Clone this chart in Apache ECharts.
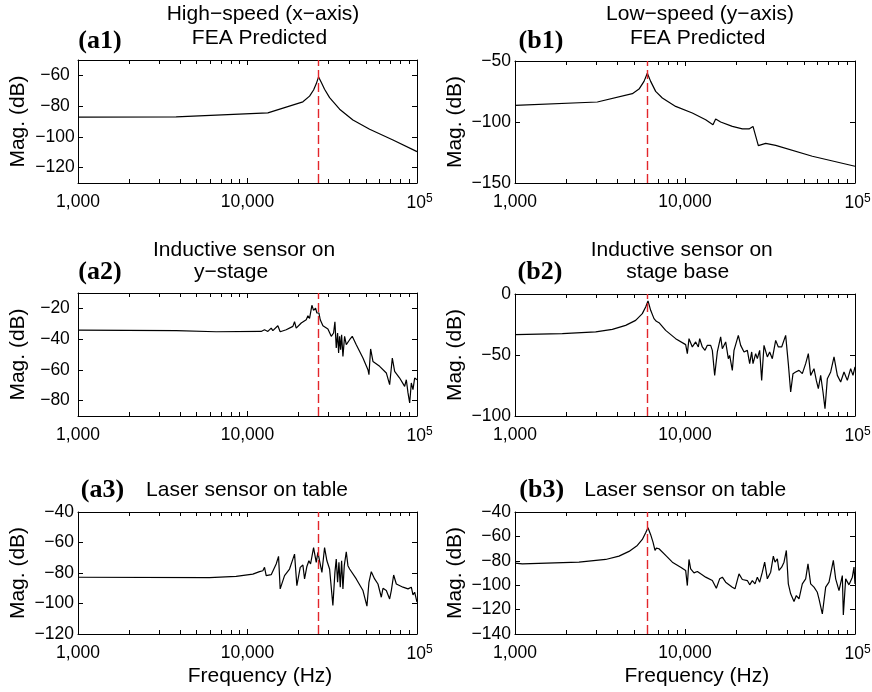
<!DOCTYPE html>
<html><head><meta charset="utf-8">
<script src="https://cdn.jsdelivr.net/npm/echarts@6/dist/echarts.min.js"></script>
<style>html,body{margin:0;padding:0;background:#fff}#c{width:872px;height:692px}</style>
</head><body><div id="c"></div>
<script>
// ---------- data ----------
const a1Freq = [1000, 3792, 13187, 21225, 23235, 24536, 25440, 26263, 27227, 28490, 30500, 34945, 41880, 52550, 72170, 100000];
const a1Mag  = [-87.2, -87.0, -84.4, -77.2, -73.5, -69.5, -65.5, -61.0, -64.5, -69.0, -74.5, -82.0, -89.0, -95.0, -102.0, -109.6];

const b1Freq = [1000, 3050, 4900, 5364, 5740, 6003, 6281, 6722, 7356, 8812, 11044, 13232, 14609, 15147, 16208, 18983, 21743, 23797, 25119, 27004, 29821, 34151, 56104, 100000];
const b1Mag  = [-86.4, -83.6, -76.8, -73.0, -66.7, -60.1, -66.7, -74.9, -80.3, -87.2, -92.6, -98.1, -102.2, -97.5, -100.0, -103.6, -105.7, -105.7, -103.6, -119.4, -117.5, -119.1, -128.1, -136.3];

const a2Freq = [1000, 3792, 6531, 12042, 12601, 13187, 13798, 14113, 15102, 15590, 16920, 18522, 18947, 19381, 20750, 22210, 22720, 23235, 23987, 24536, 25210, 25670, 26380, 26860, 27860, 29812, 31200, 32200, 32790, 33390, 34010, 34470, 34945, 35420, 35910, 36560, 37400, 38260, 40040, 41500, 43820, 47990, 51360, 52060, 53260, 54980, 60200, 65910, 68960, 71510, 73810, 79000, 84560, 86500, 88500, 90520, 92570, 94700, 96870, 100000];
const a2Mag  = [-34.1, -34.5, -35.2, -35.0, -33.9, -35.0, -32.8, -34.5, -31.3, -35.2, -33.9, -31.7, -28.7, -32.8, -29.5, -27.4, -24.8, -26.5, -18.0, -21.3, -19.8, -23.0, -23.0, -27.4, -31.3, -33.4, -38.2, -36.0, -28.7, -45.7, -36.0, -49.0, -38.2, -46.9, -37.1, -51.2, -38.2, -43.6, -40.4, -38.2, -43.6, -52.3, -59.9, -63.1, -46.4, -54.5, -57.7, -62.0, -69.6, -52.3, -61.0, -65.3, -70.7, -66.4, -75.0, -81.5, -68.5, -72.9, -65.3, -66.4];

const b2Freq = [1000, 1898, 2983, 3737, 4477, 5126, 5610, 5870, 6060, 6281, 6571, 6783, 7033, 7696, 8812, 10090, 10320, 10556, 11044, 11554, 11980, 12199, 12647, 13112, 13534, 14158, 14481, 14946, 15493, 16208, 16582, 17347, 17985, 18312, 18983, 19419, 20592, 21259, 22240, 23267, 24014, 24675, 25119, 26044, 26638, 27491, 28249, 29155, 30500, 31477, 32637, 34151, 35400, 37036, 39100, 40530, 41840, 43180, 44770, 46840, 48990, 51260, 53150, 54850, 57380, 59220, 60850, 62810, 64830, 66610, 68760, 71940, 75260, 78730, 82360, 86160, 90140, 94290, 97320, 100000];
const b2Mag  = [-33.3, -32.5, -31.1, -29.0, -25.7, -21.6, -16.1, -10.7, -5.7, -13.4, -20.2, -22.4, -23.5, -29.8, -36.6, -41.5, -48.9, -36.6, -43.4, -39.3, -43.4, -36.6, -43.4, -46.2, -42.1, -42.1, -46.2, -66.7, -47.5, -35.2, -44.8, -39.3, -53.0, -50.3, -62.6, -46.2, -33.9, -42.1, -47.5, -46.2, -57.1, -47.5, -57.1, -48.9, -53.0, -46.2, -70.8, -42.1, -51.6, -47.5, -53.0, -38.0, -43.4, -43.4, -33.9, -57.1, -80.3, -65.3, -63.9, -62.6, -65.3, -57.1, -48.9, -66.7, -61.2, -70.8, -77.6, -66.7, -80.3, -94.0, -69.4, -63.9, -51.6, -66.7, -72.1, -63.9, -70.8, -61.2, -66.7, -59.8];

const a3Freq = [1000, 5964, 8571, 10753, 11773, 12320, 12601, 12891, 13798, 14765, 15245, 15590, 16540, 17700, 18522, 18947, 19557, 20464, 21225, 21708, 22407, 23026, 23550, 24536, 25440, 26026, 26620, 27480, 28490, 29410, 30500, 31900, 32790, 33390, 34010, 34630, 35260, 35910, 36560, 37230, 38260, 39130, 40040, 43820, 47990, 50660, 52060, 53740, 56230, 58850, 61580, 62990, 65910, 68960, 70540, 72820, 75510, 82660, 88500, 92570, 94700, 96870, 100000];
const a3Mag  = [-82.8, -83.0, -82.2, -80.7, -79.1, -78.5, -76.3, -81.7, -81.1, -74.1, -69.1, -90.4, -81.7, -77.4, -70.9, -67.6, -88.3, -76.3, -74.8, -83.9, -75.7, -72.0, -74.1, -63.3, -73.0, -66.5, -72.0, -79.6, -63.3, -72.0, -77.4, -101.3, -79.6, -70.9, -86.1, -73.0, -89.3, -72.0, -90.4, -75.2, -66.1, -75.2, -77.4, -83.9, -91.5, -101.7, -86.1, -79.1, -83.9, -87.2, -95.9, -90.0, -91.5, -97.0, -91.5, -81.3, -87.2, -89.3, -90.4, -89.3, -94.3, -92.6, -99.1];

const b3Freq = [1000, 1104, 2379, 3415, 4090, 4684, 5243, 5610, 5870, 6060, 6281, 6483, 6661, 6783, 7033, 7696, 8425, 9430, 10090, 10320, 10556, 10798, 11296, 11818, 12365, 13232, 14481, 15285, 15990, 16582, 17347, 18983, 19684, 20780, 21743, 23267, 24014, 24895, 25810, 26638, 27491, 28505, 29420, 30500, 31910, 33083, 33840, 34925, 35720, 37036, 38230, 39460, 40530, 41840, 43770, 45170, 46840, 48990, 51260, 52900, 54850, 57380, 60030, 61400, 64240, 67220, 70330, 74570, 76970, 80520, 84240, 85380, 88130, 92190, 96450, 98650, 100000];
const b3Mag  = [-81.9, -82.5, -81.1, -78.9, -76.2, -72.3, -67.4, -62.5, -57.0, -52.9, -58.6, -64.7, -71.5, -69.6, -70.1, -75.6, -81.1, -85.2, -87.9, -100.3, -78.9, -86.6, -89.9, -88.8, -90.7, -93.4, -96.2, -102.5, -94.8, -93.4, -97.5, -101.6, -103.0, -90.7, -95.3, -96.2, -99.7, -96.2, -98.9, -93.4, -97.5, -89.3, -81.1, -94.8, -89.3, -76.2, -81.1, -78.4, -87.9, -85.2, -81.1, -71.5, -98.9, -107.1, -113.4, -108.5, -111.2, -98.9, -94.8, -82.5, -98.9, -101.6, -105.8, -111.2, -123.6, -101.6, -97.5, -79.7, -94.8, -104.4, -92.1, -124.4, -94.8, -99.7, -93.4, -85.2, -98.9];

// resonance markers (red dashed lines), Hz
const highSpeedResonance = 26200;
const lowSpeedResonance = 6000;

// tick values / labels
const xTickValues = [1000, 10000, 100000];
const xTickLabels = ['1,000', '10,000', '10^5'];
const a1YTicks = [-120, -100, -80, -60];
const b1YTicks = [-150, -100, -50];
const a2YTicks = [-80, -60, -40, -20];
const b2YTicks = [-100, -50, 0];
const a3YTicks = [-120, -100, -80, -60, -40];
const b3YTicks = [-140, -120, -100, -80, -60, -40];

// ---------- chart ----------
const SANS = '"Liberation Sans", Arial, Helvetica, sans-serif';
const SERIF = '"Liberation Serif", "Times New Roman", serif';

const panels = [
  {freq: a1Freq, mag: a1Mag, yMin: -130, yMax: -50, yTicks: a1YTicks, mark: highSpeedResonance,
   grid: {left: 78, top: 60, width: 339, height: 123}, lAlign: 'center', lMargin: 23},
  {freq: b1Freq, mag: b1Mag, yMin: -150, yMax: -50, yTicks: b1YTicks, mark: lowSpeedResonance,
   grid: {left: 515, top: 61, width: 340, height: 122}, lAlign: 'right', lMargin: 4},
  {freq: a2Freq, mag: a2Mag, yMin: -90, yMax: -10, yTicks: a2YTicks, mark: highSpeedResonance,
   grid: {left: 78, top: 293, width: 339, height: 123}, lAlign: 'center', lMargin: 23},
  {freq: b2Freq, mag: b2Mag, yMin: -100, yMax: 0, yTicks: b2YTicks, mark: lowSpeedResonance,
   grid: {left: 515, top: 294, width: 340, height: 122}, lAlign: 'right', lMargin: 4},
  {freq: a3Freq, mag: a3Mag, yMin: -120, yMax: -40, yTicks: a3YTicks, mark: highSpeedResonance,
   grid: {left: 78, top: 512, width: 339, height: 122}, lAlign: 'right', lMargin: 4},
  {freq: b3Freq, mag: b3Mag, yMin: -140, yMax: -40, yTicks: b3YTicks, mark: lowSpeedResonance,
   grid: {left: 515, top: 512, width: 340, height: 122}, lAlign: 'right', lMargin: 4}
];

const fmtMinus = v => (v < 0 ? '\u2212' + Math.abs(v) : String(v));
function fmtX(v) {
  const r = Math.round(v);
  const k = xTickValues.indexOf(r);
  if (k < 0) return '';
  const t = xTickLabels[k];
  if (t.indexOf('^') >= 0) { const p = t.split('^'); return '{b|' + p[0] + '}{s|' + p[1] + '}'; }
  return t;
}

const axisLine = {show: true, onZero: false, lineStyle: {color: '#000', width: 1}};
const tickStyle = {color: '#000', width: 1};

const grids = [], xAxes = [], yAxes = [], series = [];
panels.forEach((p, i) => {
  grids.push(Object.assign({outerBoundsMode: 'none', containLabel: false}, p.grid));
  ['bottom', 'top'].forEach(pos => {
    xAxes.push({
      gridIndex: i, type: 'log', logBase: 10, min: 1000, max: 100000, position: pos,
      axisLine: axisLine,
      axisTick: {show: true, inside: true, length: 5, lineStyle: tickStyle},
      minorTick: {show: true, splitNumber: 9, length: 4, lineStyle: tickStyle},
      splitLine: {show: false}, minorSplitLine: {show: false},
      axisLabel: pos === 'bottom' ? {
        show: true, margin: 10, color: '#000', fontFamily: SANS, fontSize: 17.5,
        formatter: fmtX, showMinLabel: true, showMaxLabel: true,
        rich: {
          b: {fontFamily: SANS, fontSize: 17.5, color: '#000', lineHeight: 20, padding: [0, 0, 0, 5]},
          s: {fontFamily: SANS, fontSize: 12, color: '#000', verticalAlign: 'top', lineHeight: 12}
        }
      } : {show: false}
    });
  });
  ['left', 'right'].forEach(pos => {
    yAxes.push({
      gridIndex: i, type: 'value', min: p.yMin, max: p.yMax, position: pos,
      axisLine: axisLine,
      axisTick: {show: true, inside: true, length: 5, lineStyle: tickStyle, customValues: p.yTicks},
      splitLine: {show: false},
      axisLabel: pos === 'left' ? {
        show: true, customValues: p.yTicks, formatter: fmtMinus, color: '#000',
        fontFamily: SANS, fontSize: 17.5, align: p.lAlign, margin: p.lMargin
      } : {show: false},
      name: pos === 'left' ? 'Mag. (dB)' : '',
      nameLocation: 'middle', nameGap: 49,
      nameTextStyle: {fontFamily: SANS, fontSize: 21, color: '#000'}
    });
  });
  series.push({
    type: 'line', xAxisIndex: 2 * i, yAxisIndex: 2 * i,
    data: p.freq.map((f, k) => [f, p.mag[k]]),
    symbol: 'none', showSymbol: false, animation: false,
    lineStyle: {color: '#000', width: 1.2},
    markLine: {
      silent: true, animation: false, symbol: ['none', 'none'], label: {show: false},
      lineStyle: {color: '#e3262b', type: [9, 4], width: 1.4},
      data: [{xAxis: p.mark}]
    }
  });
});

function txt(text, x, y, font) {
  return {type: 'text', x: x, y: y, silent: true,
    style: {text: text, fill: '#000', font: font, align: 'center', verticalAlign: 'middle'}};
}
const TF = '21px ' + SANS;
const LF = 'bold 26px ' + SERIF;
const graphics = [
  txt('High\u2212speed (x\u2212axis)', 263, 14.5, TF),
  txt('FEA Predicted', 259.5, 38.7, TF),
  txt('Low\u2212speed (y\u2212axis)', 700, 14.5, TF),
  txt('FEA Predicted', 697.7, 38.7, TF),
  txt('Inductive sensor on', 244, 250, TF),
  txt('y\u2212stage', 231, 272.6, TF),
  txt('Inductive sensor on', 681.7, 250, TF),
  txt('stage base', 677.7, 272.6, TF),
  txt('Laser sensor on table', 247, 490, TF),
  txt('Laser sensor on table', 685.2, 490, TF),
  txt('Frequency (Hz)', 260, 676, TF),
  txt('Frequency (Hz)', 696.8, 676, TF),
  txt('(a1)', 100, 41, LF),
  txt('(b1)', 541, 41, LF),
  txt('(a2)', 100, 272.5, LF),
  txt('(b2)', 540, 272.7, LF),
  txt('(a3)', 102.5, 490.5, LF),
  txt('(b3)', 541.7, 490.5, LF)
];

const chart = echarts.init(document.getElementById('c'), null, {renderer: 'canvas'});
chart.setOption({
  backgroundColor: '#fff',
  animation: false,
  grid: grids, xAxis: xAxes, yAxis: yAxes, series: series,
  graphic: graphics
});
</script>
</body></html>
